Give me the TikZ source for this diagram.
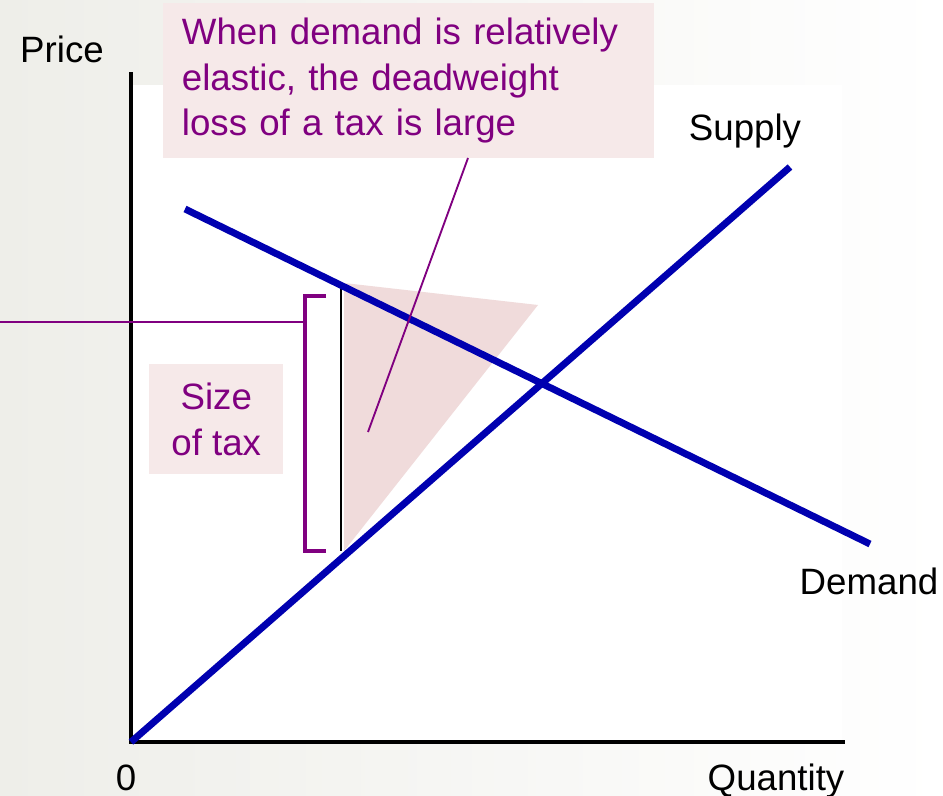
\documentclass[tikz,border=0pt]{standalone}
\usepackage{fontspec}
\setmainfont{Liberation Sans}
\usetikzlibrary{positioning}
\definecolor{curveblue}{RGB}{0,0,176}
\definecolor{taxpurple}{RGB}{128,0,128}
\definecolor{boxpink}{RGB}{246,233,233}
\definecolor{losspink}{RGB}{240,219,219}
\definecolor{bggrey}{RGB}{238,238,233}

\begin{document}
\begin{tikzpicture}[
    x=0.75pt, y=-0.75pt,
    curve/.style={line width=5.2pt, curveblue},
    axis/.style={line width=3.4pt, black},
    bracket/.style={line width=2.8pt, taxpurple},
    pointer/.style={line width=1.4pt, taxpurple},
    note/.style={fill=boxpink, text=taxpurple, font=\fontsize{27.5}{34}\selectfont},
    lbl/.style={inner sep=0pt, font=\fontsize{27.5}{30}\selectfont}
]
\useasboundingbox (0,0) rectangle (943,796);
\shade[left color=bggrey, middle color=bggrey!70, right color=white] (0,0) rectangle (943,796);
\fill[white] (133,85) rectangle (842,742);

\coordinate (origin) at (131,742);
\coordinate (ytop) at (131,72);
\coordinate (xend) at (845,742);
\coordinate (sup) at (790,167);
\coordinate (dstart) at (185,209);
\coordinate (dend) at (870,544);

% deadweight loss
\fill[losspink] (344,283) -- (538,305) -- (344,551) -- cycle;
\draw[line width=1.3pt] (341,289) -- (341,551);

\draw[axis] (ytop) -- (origin) -- (xend);
\draw[curve] (origin) -- (sup);
\draw[curve] (dstart) -- (dend);

\node[lbl, anchor=base] (price) at (62,62) {Price};
\node[lbl, anchor=base] (supply) at (745,140) {Supply};
\node[lbl, anchor=base] (demand) at (869,594) {Demand};
\node[lbl, anchor=base] (zero) at (126,790) {0};
\node[lbl, anchor=base] (quantity) at (776,790) {Quantity};

% size of tax
\coordinate (btop) at (326,296);
\coordinate (bbot) at (326,551);
\coordinate (taxlevel) at (0,322);
\draw[bracket] (btop) -- (305,296) -- (305,551) -- (bbot);
\draw[pointer] (taxlevel) -- (305,322);
\node[note, anchor=north west, align=center, minimum width=100.5pt,
    minimum height=82.5pt, inner sep=0pt] (taxbox) at (149,364) {Size\\of tax};

% label
\node[note, anchor=north west, align=left, text width=340pt,
    minimum height=116pt, inner xsep=14pt] (loss) at (163,3)
    {When demand is relatively\\elastic, the deadweight\\loss of a tax is large};
\coordinate (losstip) at (368,432);
\coordinate (lossfoot) at (468,158);
\draw[pointer] (lossfoot) -- (losstip);
\end{tikzpicture}
\end{document}
